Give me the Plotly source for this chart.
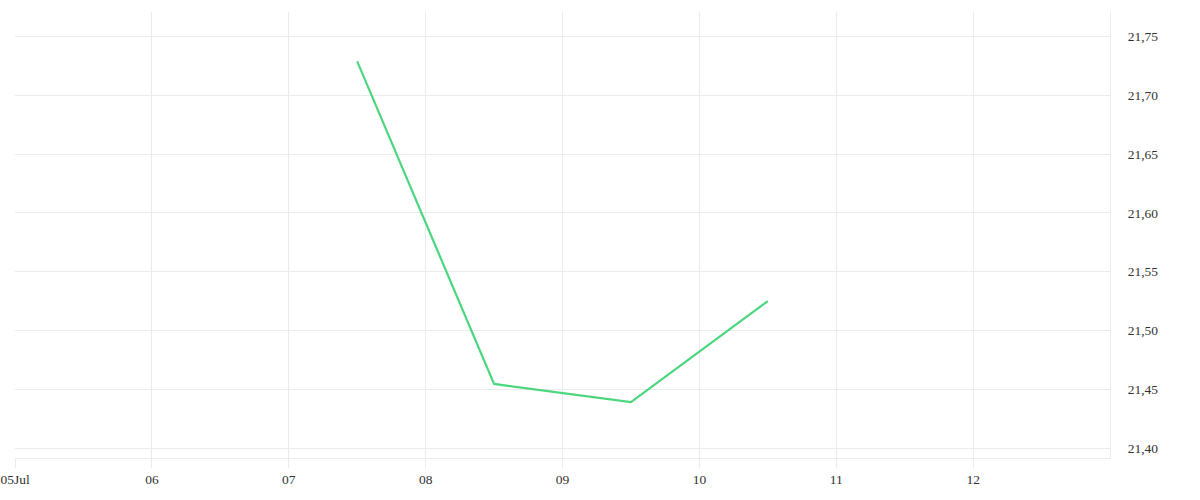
import plotly.graph_objects as go

# daily values (plotted at midday)
dates = ["2023-07-07 12:00", "2023-07-08 12:00", "2023-07-09 12:00", "2023-07-10 12:00"]
values = [21.729, 21.4545, 21.439, 21.525]

tick_dates = ["2023-07-05", "2023-07-06", "2023-07-07", "2023-07-08",
              "2023-07-09", "2023-07-10", "2023-07-11", "2023-07-12"]
tick_labels = ["05Jul", "06", "07", "08", "09", "10", "11", "12"]

grid = "#ebebeb"

fig = go.Figure(go.Scatter(x=dates, y=values, mode="lines",
                           line=dict(color="#4cd67f", width=2.2)))

fig.update_layout(
    width=1200, height=500,
    margin=dict(l=15, r=90, t=12, b=42),
    paper_bgcolor="white", plot_bgcolor="white",
    showlegend=False,
    separators=", ",
    font=dict(family="Liberation Serif", size=13.5, color="#333"),
)
fig.update_xaxes(
    type="date", range=["2023-07-05", "2023-07-13"],
    tickvals=tick_dates, ticktext=tick_labels,
    showgrid=True, gridcolor=grid, gridwidth=1,
    showline=True, linecolor=grid, linewidth=1,
    ticks="outside", ticklen=9, tickcolor=grid,
    zeroline=False, automargin=False, ticklabeloverflow="allow",
)
fig.update_yaxes(
    side="right", range=[21.3915, 21.771],
    tickvals=[21.40, 21.45, 21.50, 21.55, 21.60, 21.65, 21.70, 21.75],
    tickformat=".2f",
    showgrid=True, gridcolor=grid, gridwidth=1,
    showline=True, linecolor=grid, linewidth=1,
    ticks="outside", ticklen=14, tickcolor="rgba(0,0,0,0)",
    zeroline=False, automargin=False,
)

# drop the page's default body margin so the chart fills the window
fig.write_html("out.html", config={"displayModeBar": False},
               post_script="document.body.style.margin = '0';")
